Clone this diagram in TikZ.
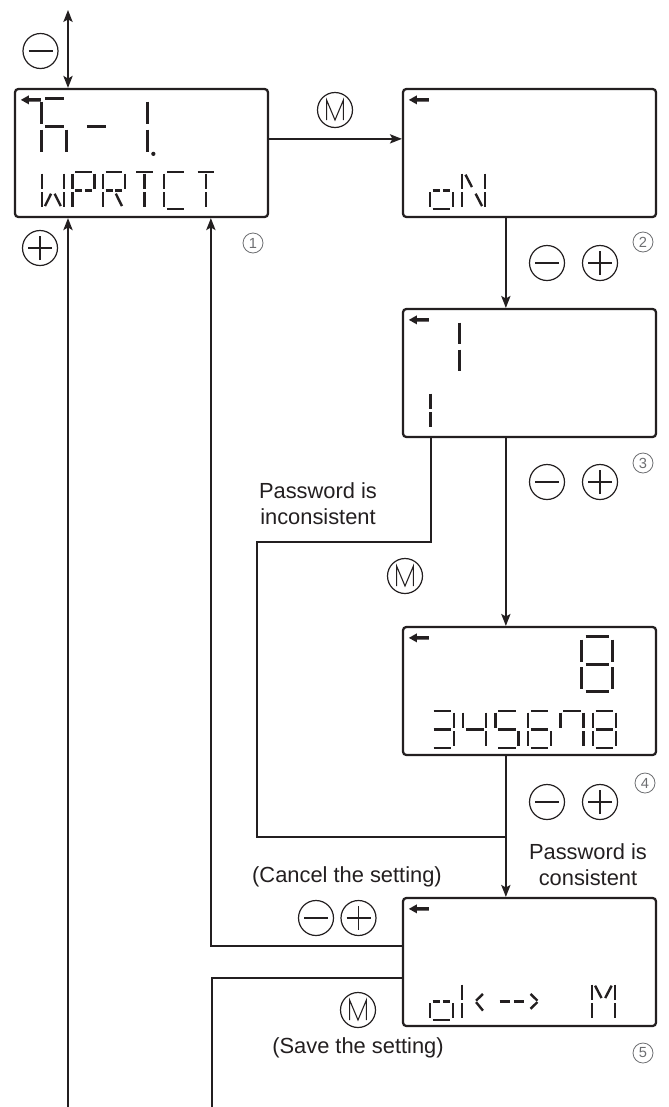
\documentclass[tikz,border=0pt]{standalone}
\usepackage{fontspec}
\setmainfont{Liberation Sans}
\usetikzlibrary{arrows.meta, positioning, calc}
\definecolor{ink}{HTML}{231F20}
\definecolor{numgray}{HTML}{6D6E71}

\tikzset{
  lcdbox/.style={draw=ink, line width=1.7pt, rounded corners=2.5pt, minimum width=189.75pt, minimum height=96pt, inner sep=0pt},
  wire/.style={draw=ink, line width=1pt},
  btn/.style={circle, draw=ink, line width=0.9pt, minimum size=26.25pt, inner sep=0pt},
  btnminus/.style={btn, path picture={
    \draw[ink, line width=0.9pt] ([xshift=-9pt]path picture bounding box.center) -- ([xshift=9pt]path picture bounding box.center);}},
  btnplus/.style={btn, path picture={
    \draw[ink, line width=0.9pt] ([xshift=-9pt]path picture bounding box.center) -- ([xshift=9pt]path picture bounding box.center);
    \draw[ink, line width=0.9pt] ([yshift=-9pt]path picture bounding box.center) -- ([yshift=9pt]path picture bounding box.center);}},
  btnm/.style={btn, path picture={
    \draw[ink, line width=0.8pt, line join=miter] ($(path picture bounding box.center)+(-6.3pt,-7.5pt)$) -- ++(0,15pt) -- ++(6.3pt,-15pt) -- ++(6.3pt,15pt) -- ++(0,-15pt);}},
  stepno/.style={circle, draw=numgray, text=numgray, line width=0.6pt, minimum size=15pt, inner sep=0pt, font=\fontsize{11}{11}\selectfont},
  note/.style={align=center, text=ink, inner sep=0pt, font=\fontsize{16.4}{19.5}\selectfont},
  % segments of one display cell, 1 wide and 2 high
  segline/.style={draw=ink, line width=1.8pt},
  bigdigit/.style={segline/.style={draw=ink, line width=2.3pt}},
  seg/a/.code={\draw[segline] (0.12,0) -- (0.88,0);},
  seg/b/.code={\draw[segline] (1,0.1) -- (1,0.9);},
  seg/c/.code={\draw[segline] (1,1.1) -- (1,1.9);},
  seg/d/.code={\draw[segline] (0.12,2) -- (0.88,2);},
  seg/e/.code={\draw[segline] (0,1.1) -- (0,1.9);},
  seg/f/.code={\draw[segline] (0,0.1) -- (0,0.9);},
  seg/g/.code={\draw[segline] (0.12,1) -- (0.88,1);},
  seg/g1/.code={\draw[segline] (0.12,1) -- (0.44,1);},
  seg/g2/.code={\draw[segline] (0.56,1) -- (0.88,1);},
  seg/h/.code={\draw[segline] (0.14,0.15) -- (0.42,0.82);},
  seg/i/.code={\draw[segline] (0.5,0.1) -- (0.5,0.9);},
  seg/j/.code={\draw[segline] (0.86,0.15) -- (0.58,0.82);},
  seg/k/.code={\draw[segline] (0.42,1.18) -- (0.14,1.85);},
  seg/l/.code={\draw[segline] (0.5,1.1) -- (0.5,1.9);},
  seg/m/.code={\draw[segline] (0.58,1.18) -- (0.86,1.85);},
  % short chevrons near the middle
  seg/p/.code={\draw[segline] (0.15,0.6) -- (0.45,0.96); \draw[segline] (0.45,1.04) -- (0.15,1.4);},
  seg/q/.code={\draw[segline] (0.9,0.6) -- (0.6,0.96); \draw[segline] (0.6,1.04) -- (0.9,1.5);},
  lcd/.pic={\edef\seglist{#1}
    \foreach \s in \seglist {\edef\segkey{seg/\s}\expandafter\tikzset\expandafter{\segkey}}},
}

\begin{document}
\begin{tikzpicture}[x=0.75pt, y=-0.75pt, >={Stealth[length=9pt, width=7pt, inset=2pt]}]
  \useasboundingbox (0,0) rectangle (668,1107);

  % the five screens
  \node[lcdbox] (box1) at (141.5,153) {};
  \node[lcdbox, right=99.55pt of box1] (box2) {};
  \node[lcdbox, below=67.3pt of box2] (box3) {};
  \node[lcdbox, below=140.8pt of box3] (box4) {};
  \node[lcdbox, below=105.55pt of box4] (box5) {};

  % back arrow in each corner
  \foreach \b in {box1, box2, box3, box4, box5}
    \fill[ink, shift={(\b.north west)}] (7,12) -- (15,7.5) -- (15,10.3) -- (27,10.3) -- (27,13.7) -- (15,13.7) -- (15,16.5) -- cycle;

  % screen 1: F- 1. / WPRTCT
  \begin{scope}[shift={(box1.north west)}]
    \pic[xscale=25, yscale=28, bigdigit] at (28,11) {lcd={a,f,g,e,c}};
    \pic[xscale=25, yscale=28, bigdigit] at (70,11) {lcd={g}};
    \pic[xscale=24, yscale=28, bigdigit] at (109.5,11) {lcd={b,c}};
    \fill[ink] (139.5,66) circle (1.6pt);
    \foreach \segs [count=\n from 0] in {{f,e,k,m,c,b},{a,b,f,e,g1,g2},{a,b,f,e,g1,g2,m},{a,i,l},{a,f,e,d},{a,i,l}}
      \pic[xscale=22, yscale=18.5] at (28+30.6*\n,84) {lcd=\segs};
  \end{scope}

  % screen 2: oN
  \begin{scope}[shift={(box2.north west)}]
    \pic[xscale=23, yscale=18.5] at (28,84) {lcd={g1,g2,c,d,e}};
    \pic[xscale=23, yscale=18.5] at (60.4,84) {lcd={f,e,h,m,b,c}};
  \end{scope}

  % screen 3: 1 / 1
  \begin{scope}[shift={(box3.north west)}]
    \pic[xscale=24, yscale=27, bigdigit] at (33.5,12) {lcd={b,c}};
    \pic[xscale=22, yscale=18.5] at (28.5,84) {lcd={f,e}};
  \end{scope}

  % screen 4: 8 / 345678
  \begin{scope}[shift={(box4.north west)}]
    \pic[xscale=31, yscale=27.5, bigdigit] at (180,11) {lcd={a,b,c,d,e,f,g}};
    \foreach \segs [count=\n from 0] in {{a,b,g,c,d},{f,g,b,c},{a,f,g,c,d},{a,f,e,g,c,d},{a,f,b,c},{a,b,c,d,e,f,g}}
      \pic[xscale=23, yscale=18.5] at (29+32.4*\n,85) {lcd=\segs};
  \end{scope}

  % screen 5: oK--> M
  \begin{scope}[shift={(box5.north west)}]
    \foreach \segs/\xc/\w in {{g1,g2,c,d,e}/28/23, {f,e,q}/60.4/23, {g1,g2}/94/32, {p}/125.2/23, {f,e,h,j,b,c}/190/23}
      \pic[xscale=\w, yscale=18.5] at (\xc,86) {lcd=\segs};
  \end{scope}

  % keys
  \node[btnminus] (topminus) at (40.5,51) {};
  \node[btnplus] (leftplus) at (40,248) {};
  \node[btnm] (menter) at (335,110) {};
  \foreach \y/\n in {263/a, 482/b, 802/c} {
    \node[btnminus] (minus\n) at (547,\y) {};
    \node[btnplus] (plus\n) at (600,\y) {};
  }
  \node[btnm] (mretry) at (405,576) {};
  \node[btnminus] (minusd) at (316,918) {};
  \node[btnplus] (plusd) at (358.5,918) {};
  \node[btnm] (msave) at (358,1010) {};

  % step numbers
  \foreach \x/\y/\k in {253/243/1, 643/242/2, 643/463/3, 645/783/4, 643/1053/5}
    \node[stepno] (step\k) at (\x,\y) {\k};

  % texts
  \node[note] (wrongpw) at (318,504) {Password is\\inconsistent};
  \node[note] (rightpw) at (588,865) {Password is\\consistent};
  \node[note] (cancel) at (347,877) {(Cancel the setting)};
  \node[note] (save) at (358,1048) {(Save the setting)};

  % connectors
  \coordinate (uptip) at (68,10);
  \draw[wire, <->] (uptip) -- (uptip |- box1.north);
  \coordinate (leftfoot) at (68,1107);
  \draw[wire, ->] (leftfoot) -- (leftfoot |- box1.south);
  \draw[wire, ->] ($(box1.north east)+(0,51)$) coordinate (mrow) -- (mrow -| box2.west);
  \foreach \a/\b in {box2/box3, box3/box4, box4/box5}
    \draw[wire, ->] ($(\a.south west)+(104,0)$) coordinate (down) -- (down |- \b.north);
  \coordinate (join) at ($(box4.south west)+(104,81)$);
  \draw[wire] ($(box3.south west)+(29,0)$) |- (257,542) |- (join);
  \draw[wire, ->] ($(box5.north west)+(0,49)$) -| ($(box1.south west)+(197,0)$);
  \coordinate (savefoot) at (212,1107);
  \draw[wire] ($(box5.north west)+(0,81)$) -| (savefoot);
\end{tikzpicture}
\end{document}
